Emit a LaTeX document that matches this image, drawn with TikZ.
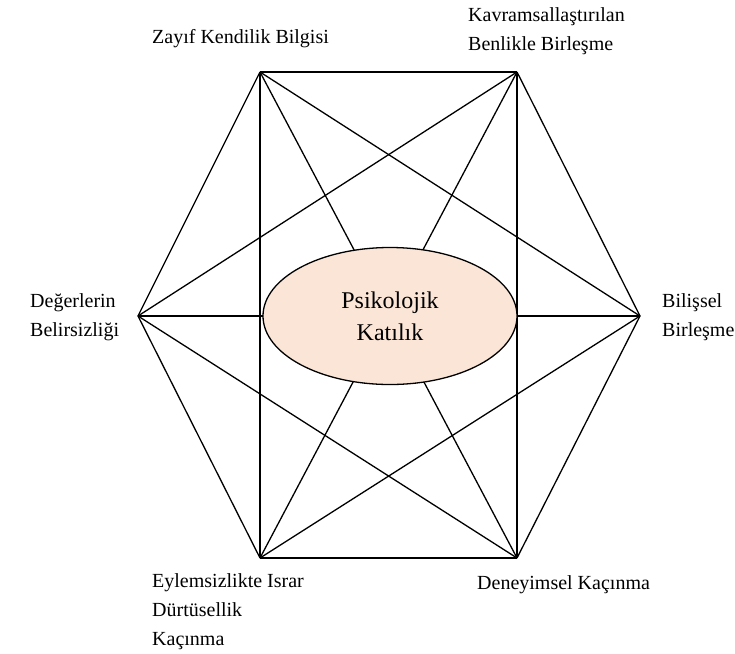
\documentclass[tikz,border=0pt]{standalone}
\usepackage{fontspec}
\setmainfont{Liberation Serif}
\usetikzlibrary{positioning,shapes.geometric}
\definecolor{peach}{HTML}{FBE5D6}

\begin{document}
\begin{tikzpicture}[
  x=1pt,y=-1pt,
  lbl/.style={font=\fontsize{20}{29}\selectfont,align=left,inner sep=0pt,anchor=west},
  edge/.style={line width=1.3pt},
  core/.style={ellipse,draw,line width=1.3pt,fill=peach,minimum width=254pt,minimum height=137pt,
               font=\fontsize{24}{32}\selectfont,align=center}
]
\useasboundingbox (0,0) rectangle (735,653);
% ---------------- hexagon corners ----------------
\coordinate (tl) at (260,72);
\coordinate (tr) at (517,72);
\coordinate (rr) at (640,316);
\coordinate (br) at (517,558);
\coordinate (bl) at (260,558);
\coordinate (ll) at (138,316);
% every corner to every other one
\foreach \a/\b in {tl/tr,tl/rr,tl/br,tl/bl,tl/ll,tr/rr,tr/br,tr/bl,tr/ll,
                   rr/br,rr/bl,rr/ll,br/bl,br/ll,bl/ll}
  \draw[edge,line join=round] (\a) -- (\b);

% ---------------- centre ----------------
\node[core] (pk) at (390,316) {Psikolojik\\Katılık};

% ---------------- labels ----------------
\node[lbl] (zkb) at (152,39) {Zayıf Kendilik Bilgisi};
\node[lbl] (kbb) at (468,31) {Kavramsallaştırılan\\Benlikle Birleşme};
\node[lbl] (db)  at (30,317) {Değerlerin\\Belirsizliği};
\node[lbl] (bb)  at (662,317) {Bilişsel\\Birleşme};
\node[lbl] (eid) at (152,612) {Eylemsizlikte Israr\\Dürtüsellik\\Kaçınma};
\node[lbl] (dk)  at (477,585) {Deneyimsel Kaçınma};
\end{tikzpicture}
\end{document}
